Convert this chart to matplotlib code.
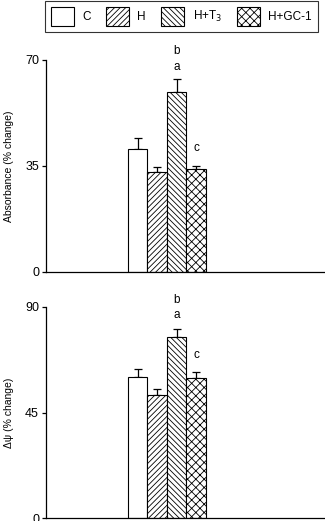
import matplotlib
matplotlib.use("Agg")
import matplotlib.pyplot as plt
from matplotlib.patches import Patch

plt.rcParams['font.family'] = ['Liberation Sans', 'DejaVu Sans']
plt.rcParams['hatch.linewidth'] = 0.6

groups = ["C", "H", "H+T$_3$", "H+GC-1"]
hatches = ["", "//////", "\\\\\\\\\\\\", "xxxx"]

absorbance = [40.5, 32.9, 59.3, 33.9]
absorbance_err = [3.7, 1.6, 4.3, 1.2]
dpsi = [60.0, 52.3, 77.3, 59.7]
dpsi_err = [3.4, 2.6, 3.1, 2.4]

# letters above bars: (bar index, text, value)
abs_letters = [(2, "b", 73.0), (2, "a", 67.5), (3, "c", 41.0)]
dpsi_letters = [(2, "b", 93.0), (2, "a", 86.5), (3, "c", 69.5)]

xpos = [4.7, 5.7, 6.7, 7.7]

fig = plt.figure(figsize=(3.25, 5.21), dpi=100)
ax1 = fig.add_axes([0.1415, 0.478, 0.855, 0.407])
ax2 = fig.add_axes([0.1415, 0.005, 0.855, 0.406])


def draw(ax, vals, errs, letters, ymax, ylabel):
    for x, v, e, h in zip(xpos, vals, errs, hatches):
        ax.bar(x, v, width=1.0, color="white", edgecolor="black",
               hatch=h, linewidth=0.8, zorder=2)
        ax.errorbar(x, v, yerr=[[0], [e]], color="black", capsize=3,
                    elinewidth=0.9, capthick=0.9, zorder=1)
    for i, t, y in letters:
        ax.text(xpos[i], y, t, ha="center", va="center", fontsize=8.5,
                clip_on=False)
    ax.set_xlim(0, 14.26)
    ax.set_ylim(0, ymax)
    ax.set_yticks([0, ymax / 2, ymax])
    ax.set_yticklabels([str(int(t)) for t in [0, ymax / 2, ymax]])
    ax.set_xticks([])
    ax.spines['top'].set_visible(False)
    ax.spines['right'].set_visible(False)
    ax.spines['left'].set_linewidth(0.9)
    ax.spines['bottom'].set_linewidth(0.9)
    ax.tick_params(axis='y', labelsize=9, length=3, width=0.9, pad=2)
    ax.set_ylabel(ylabel, fontsize=7.5, labelpad=8)


draw(ax1, absorbance, absorbance_err, abs_letters, 70, "Absorbance (% change)")
draw(ax2, dpsi, dpsi_err, dpsi_letters, 90, "Δψ (% change)")

handles = [Patch(facecolor="white", edgecolor="black", hatch=h, linewidth=0.8)
           for h in hatches]
leg = fig.legend(handles, groups, ncol=4, loc="upper right",
                 bbox_to_anchor=(0.978, 0.998), fontsize=8.5, frameon=True,
                 fancybox=False, edgecolor="black", handlelength=1.95,
                 handleheight=2.1, handletextpad=0.7, columnspacing=1.3,
                 borderpad=0.5, borderaxespad=0)
leg.get_frame().set_linewidth(0.8)

fig.savefig("out.png", dpi=100)
